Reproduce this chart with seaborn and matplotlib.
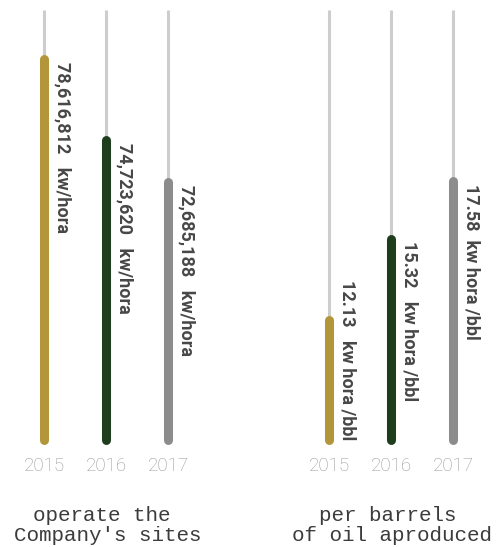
import matplotlib
matplotlib.use("Agg")
import matplotlib.pyplot as plt
import seaborn as sns
import pandas as pd

# ---- data -------------------------------------------------------------
years = ["2015", "2016", "2017"]
site_kwh = [78616812, 74723620, 72685188]          # kw/hora used to operate the sites
barrel_kwh = [12.13, 15.32, 17.58]                  # kw hora per barrel produced
bar_colors = ["#B3963A", "#1E3D1F", "#8C8C8C"]
site_title = ["operate the", "Company's sites"]
barrel_title = ["per barrels", "of oil aproduced"]

site_labels = [f"{v:,}   kw/hora" for v in site_kwh]
barrel_labels = [f"{barrel_kwh[0]:.2f}   kw hora /bbl",
                 f"{barrel_kwh[1]:.2f}   kw hora /bbl",
                 f"{barrel_kwh[2]:.2f}  kw hora /bbl"]

# ---- styling ----------------------------------------------------------
sns.set_theme(style="white")
plt.rcParams["font.family"] = ["Roboto", "DejaVu Sans"]

W, H, DPI = 499, 547, 100
fig = plt.figure(figsize=(W / DPI, H / DPI), dpi=DPI)

TRACK = "#CDCDCD"
LABEL = "#474747"
YEAR = "#989898"
TITLE = "#3C3C3C"

# axes rectangles in pixels: (left, bottom, width, height)
panels = [
    dict(rect=(13, 107, 186, 430), values=site_kwh, labels=site_labels,
         ylim=(60.25e6, 80.98e6), title=site_title, title_x=(102, 108)),
    dict(rect=(298, 107, 186, 430), values=barrel_kwh, labels=barrel_labels,
         ylim=(7.42, 24.28), title=barrel_title, title_x=(388, 392)),
]

positions = list(range(len(years)))
palette = dict(zip(years, bar_colors))

for p in panels:
    l, b, w, h = p["rect"]
    ax = fig.add_axes([l / W, b / H, w / W, h / H])
    lo, hi = p["ylim"]

    # background tracks, full height of the scale
    tracks = pd.DataFrame({
        "pos": [x for x in positions for _ in range(2)],
        "val": [v for _ in positions for v in (lo, hi)],
        "year": [y for y in years for _ in range(2)],
    })
    sns.lineplot(data=tracks, x="pos", y="val", units="year", estimator=None,
                 color=TRACK, lw=2.2, solid_capstyle="butt", ax=ax, zorder=1)

    # value bars drawn as thick rounded strokes
    bars = pd.DataFrame({
        "pos": [x for x in positions for _ in range(2)],
        "val": [v for val in p["values"] for v in (lo, val)],
        "year": [y for y in years for _ in range(2)],
    })
    sns.lineplot(data=bars, x="pos", y="val", hue="year", units="year",
                 estimator=None, palette=palette, lw=6.5, clip_on=False,
                 solid_capstyle="round", legend=False, ax=ax, zorder=2)

    ax.set_xlim(-0.5, 2.5)
    ax.set_ylim(lo, hi)
    ax.set_xticks(positions)
    ax.set_xticklabels(years, color=YEAR, fontsize=13.5, fontweight="light")
    ax.tick_params(axis="x", length=0, pad=12)
    ax.set_yticks([])
    ax.set_xlabel("")
    ax.set_ylabel("")
    for s in ax.spines.values():
        s.set_visible(False)
    ax.patch.set_alpha(0)

    p["ax"] = ax
    p["texts"] = []
    for x, val, lab in zip(positions, p["values"], p["labels"]):
        t = ax.annotate(lab, xy=(x, val), xytext=(13.5, -2), textcoords="offset points",
                        rotation=-90, ha="center", va="top", fontsize=13,
                        fontweight="bold", color=LABEL, annotation_clip=False)
        p["texts"].append(t)

    # two-line caption under each panel
    for line, cx, base in zip(p["title"], p["title_x"], (521, 541)):
        fig.text(cx / W, 1 - base / H, line, ha="center", va="baseline",
                 family="Liberation Mono", fontsize=15, color=TITLE)

# keep value labels from running past the base of short bars
fig.canvas.draw()
renderer = fig.canvas.get_renderer()
for p in panels:
    ax = p["ax"]
    base_px = ax.transData.transform((0, p["ylim"][0]))[1]
    for t in p["texts"]:
        ext = t.get_window_extent(renderer)
        if ext.y0 < base_px:
            dx, dy = t.xyann
            t.xyann = (dx, dy + (base_px - ext.y0) * 72 / DPI)

fig.savefig("out.png", dpi=DPI)
